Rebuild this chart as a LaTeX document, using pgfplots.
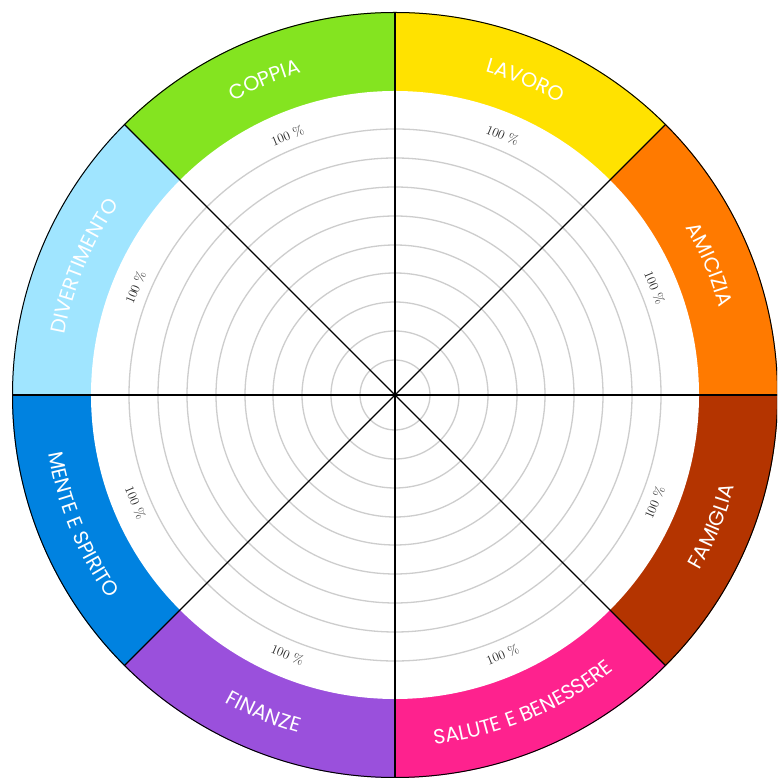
\documentclass[border=0pt]{standalone}
\usepackage{pgfplots}
\pgfplotsset{compat=1.18}
\usepackage{fontspec}
\usetikzlibrary{decorations.text}
\newfontfamily\pop{Poppins}
\definecolor{cGreen}{RGB}{132,228,32}
\definecolor{cYellow}{RGB}{255,226,0}
\definecolor{cOrange}{RGB}{255,122,0}
\definecolor{cBrown}{RGB}{180,52,0}
\definecolor{cPink}{RGB}{254,34,142}
\definecolor{cPurple}{RGB}{154,80,220}
\definecolor{cBlue}{RGB}{0,130,224}
\definecolor{cLight}{RGB}{160,229,255}
\definecolor{ringgray}{RGB}{205,205,205}
\newcommand\labfont{\pop\fontsize{20.5}{21}\selectfont}
\newcommand\pctfont{\fontsize{13}{13}\selectfont}
% sector fill: start angle, end angle, colour
\newcommand\sector[3]{\fill[#3] (axis cs:0,0) -- (axis cs:{383*cos(#1)},{383*sin(#1)}) arc[start angle=#1, end angle=#2, radius=383pt] -- cycle;}
% label on top half (text runs clockwise, tops outward)
\newcommand\toplabel[3]{\path[decorate, decoration={text along path, text align=center, text color=white, text={|\labfont|#3}}] (axis cs:{335.5*cos(#1)},{335.5*sin(#1)}) arc[start angle=#1, end angle=#2, radius=335.5pt];}
% label on bottom half (text runs counterclockwise, tops inward)
\newcommand\botlabel[3]{\path[decorate, decoration={text along path, text align=center, text color=white, text={|\labfont|#3}}] (axis cs:{351.5*cos(#1)},{351.5*sin(#1)}) arc[start angle=#1, end angle=#2, radius=351.5pt];}
\newcommand\pct[2]{\node[rotate=#2, font=\pctfont, text=black!85, inner sep=0pt] at (axis cs:{281*cos(#1)},{281*sin(#1)}) {100 \%};}
\begin{document}
\begin{tikzpicture}
\begin{axis}[
  scale only axis, width=777pt, height=778pt,
  xmin=-395, xmax=382, ymin=-383, ymax=395,
  hide axis, clip=true]
% coloured outer band
\sector{45}{90}{cYellow}
\sector{0}{45}{cOrange}
\sector{-45}{0}{cBrown}
\sector{-90}{-45}{cPink}
\sector{-135}{-90}{cPurple}
\sector{-180}{-135}{cBlue}
\sector{135}{180}{cLight}
\sector{90}{135}{cGreen}
\fill[white] (axis cs:0,0) circle[radius=304];
% concentric rings
\addplot[draw=none] coordinates {(0,0)};
\draw[ringgray, line width=1.3pt] (axis cs:0,0) circle[radius=35];
\draw[ringgray, line width=1.3pt] (axis cs:0,0) circle[radius=64];
\draw[ringgray, line width=1.3pt] (axis cs:0,0) circle[radius=93];
\draw[ringgray, line width=1.3pt] (axis cs:0,0) circle[radius=122];
\draw[ringgray, line width=1.3pt] (axis cs:0,0) circle[radius=150];
\draw[ringgray, line width=1.3pt] (axis cs:0,0) circle[radius=179];
\draw[ringgray, line width=1.3pt] (axis cs:0,0) circle[radius=208];
\draw[ringgray, line width=1.3pt] (axis cs:0,0) circle[radius=237];
\draw[ringgray, line width=1.3pt] (axis cs:0,0) circle[radius=266];
% spokes
\addplot[black, line width=1.2pt] coordinates {(-383,0) (383,0)};
\addplot[black, line width=1.2pt] coordinates {(0,-383) (0,383)};
\addplot[black, line width=1.2pt] coordinates {(-270.8,-270.8) (270.8,270.8)};
\addplot[black, line width=1.2pt] coordinates {(-270.8,270.8) (270.8,-270.8)};
% outer border
\draw[black, line width=1pt] (axis cs:0,0) circle[radius=382.5];
% category labels
\toplabel{135}{90}{COPPIA}
\toplabel{90}{45}{LAVORO}
\toplabel{45}{0}{AMICIZIA}
\toplabel{180}{135}{DIVERTIMENTO}
\botlabel{-45}{0}{FAMIGLIA}
\botlabel{-90}{-45}{SALUTE E BENESSERE}
\botlabel{-135}{-90}{FINANZE}
\botlabel{-180}{-135}{MENTE E SPIRITO}
% 100 % labels
\pct{112.5}{22.5}
\pct{67.5}{-22.5}
\pct{22.5}{-67.5}
\pct{157.5}{67.5}
\pct{-22.5}{67.5}
\pct{-67.5}{22.5}
\pct{-112.5}{-22.5}
\pct{-157.5}{-67.5}
\end{axis}
\pgfresetboundingbox
\path (current axis.south west) rectangle (current axis.north east);
\end{tikzpicture}
\end{document}
